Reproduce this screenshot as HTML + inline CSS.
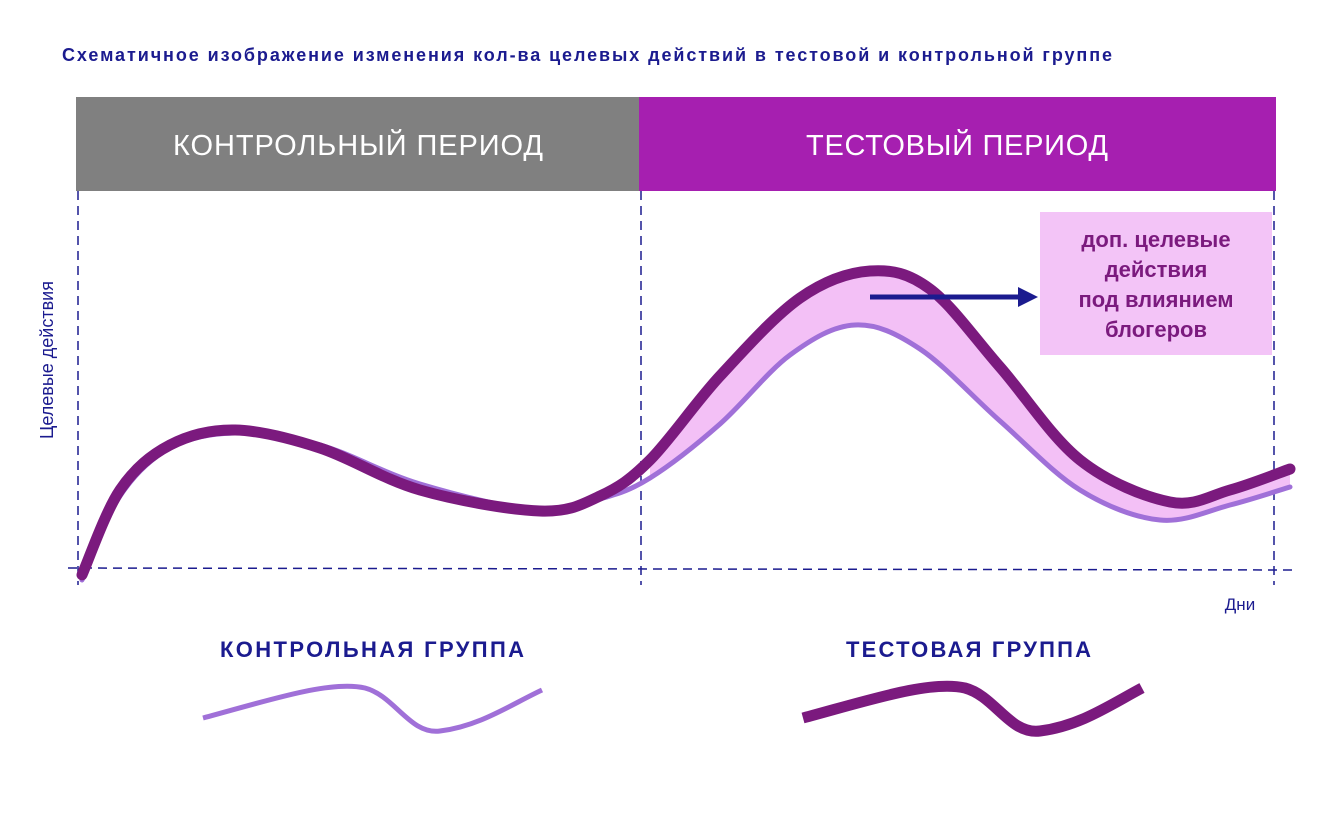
<!DOCTYPE html>
<html><head><meta charset="utf-8"><style>
body{margin:0;background:#fff;width:1340px;height:830px;overflow:hidden;font-family:"Liberation Sans",sans-serif}
</style></head><body>
<svg id="chart" width="1340" height="830" viewBox="0 0 1340 830" xmlns="http://www.w3.org/2000/svg">
<text x="62" y="61" font-size="18" font-weight="bold" fill="#1b1b8f" textLength="1050" lengthAdjust="spacing" font-family="Liberation Sans, sans-serif">Схематичное изображение изменения кол-ва целевых действий в тестовой и контрольной группе</text>
<rect x="76" y="97" width="563" height="94" fill="#808080"/>
<rect x="639" y="97" width="637" height="94" fill="#a61fb0"/>
<text x="173" y="155" font-size="29" fill="#fff" textLength="370" lengthAdjust="spacing">КОНТРОЛЬНЫЙ ПЕРИОД</text>
<text x="806" y="155" font-size="29" fill="#fff" textLength="302" lengthAdjust="spacing">ТЕСТОВЫЙ ПЕРИОД</text>
<g stroke="#1b1b8f" stroke-width="1.5" stroke-dasharray="9,6" fill="none">
<line x1="78" y1="191" x2="78" y2="585"/><line x1="641" y1="191" x2="641" y2="585"/><line x1="1274" y1="191" x2="1274" y2="585"/>
<line x1="68" y1="568" x2="1295" y2="570"/>
</g>
<path id="fill" fill="#f3c0f6"/>
<path id="light" fill="none" stroke="#a070d8" stroke-width="5" stroke-linecap="round"/>
<path id="dark" fill="none" stroke="#7b1a7e" stroke-width="11" stroke-linecap="round"/>
<rect x="1040" y="212" width="232" height="143" fill="#f3c4f7"/>
<g font-size="22" font-weight="bold" fill="#7b1a7e" text-anchor="middle">
<text x="1156" y="247">доп. целевые</text><text x="1156" y="277">действия</text><text x="1156" y="307">под влиянием</text><text x="1156" y="337">блогеров</text></g>
<line x1="870" y1="297" x2="1020" y2="297" stroke="#1b1b8f" stroke-width="5"/>
<polygon points="1018,287 1038,297 1018,307" fill="#1b1b8f"/>
<text transform="translate(53,360) rotate(-90)" font-size="18" fill="#1b1b8f" text-anchor="middle">Целевые действия</text>
<text x="1240" y="610" font-size="17" fill="#1b1b8f" text-anchor="middle">Дни</text>
<text x="220" y="657" font-size="22" font-weight="bold" fill="#1b1b8f" textLength="304" lengthAdjust="spacing">КОНТРОЛЬНАЯ ГРУППА</text>
<text x="846" y="657" font-size="22" font-weight="bold" fill="#1b1b8f" textLength="245" lengthAdjust="spacing">ТЕСТОВАЯ ГРУППА</text>
<path d="M203,718 C270,700 330,680 365,688 C395,696 410,735 440,731 C480,726 510,705 542,690" fill="none" stroke="#a070d8" stroke-width="5"/>
<path d="M803,718 C870,700 930,680 965,688 C995,696 1010,735 1040,731 C1080,726 1110,705 1142,688" fill="none" stroke="#7b1a7e" stroke-width="11"/>
</svg>
<script>
const testDays=[0.2,4,9,15.5,24,34,46,52,57,64,72,79,85,92,100,109,115,121];
const testValues=[-2.3,26,41,46,40,26,19,24,36,64,90,99,93,67,36,22,26,33];
const controlDays=[0.2,4,9,15.5,24,34,46,52,57,64,71,77.5,84,92,100,108,115,121];
const controlValues=[-4,24,40,45,41,28,19,23,30,48,71,81,73,49,26,16,21,27];
const testStartDay=56;
function xs(d){return 80+d*10;}
function ys(v){return 568-v*3;}
function pts(days,vals){return days.map((d,i)=>[xs(d),ys(vals[i])]);}
function cr(p){let s="M"+p[0][0]+","+p[0][1];for(let i=0;i<p.length-1;i++){const a=p[i-1]||p[i],b=p[i],c=p[i+1],d=p[i+2]||c;s+=" C"+(b[0]+(c[0]-a[0])/6)+","+(b[1]+(c[1]-a[1])/6)+" "+(c[0]-(d[0]-b[0])/6)+","+(c[1]-(d[1]-b[1])/6)+" "+c[0]+","+c[1];}return s;}
const dp=pts(testDays,testValues),lp=pts(controlDays,controlValues);
document.getElementById('dark').setAttribute('d',cr(dp));
document.getElementById('light').setAttribute('d',cr(lp));
const dt=dp.filter((p,i)=>testDays[i]>=testStartDay),lt=lp.filter((p,i)=>controlDays[i]>=testStartDay).reverse();
let f=cr(dt);const r=cr(lt);f+=" L"+r.slice(1)+" Z";
document.getElementById('fill').setAttribute('d',f);
</script>
</body></html>
